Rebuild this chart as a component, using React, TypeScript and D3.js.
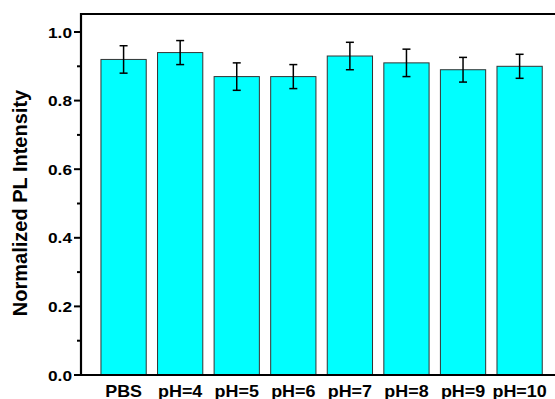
import React, { useRef, useEffect } from "react";
import * as d3 from "d3";

// data
const categories = ["PBS", "pH=4", "pH=5", "pH=6", "pH=7", "pH=8", "pH=9", "pH=10"];
const values = [0.92, 0.94, 0.87, 0.87, 0.93, 0.91, 0.89, 0.9];
const errors = [0.04, 0.035, 0.04, 0.035, 0.04, 0.04, 0.036, 0.035];
const majorTicks = [0, 0.2, 0.4, 0.6, 0.8, 1.0];
const minorTicks = [0.1, 0.3, 0.5, 0.7, 0.9];

const App = () => {
  const container = useRef<SVGSVGElement>(null);

  const width = 555;
  const height = 399;
  const left = 81;
  const bottom = 375;
  const top = 14;

  useEffect(() => {
    const svg = d3.select(container.current);
    svg.selectAll("*").remove();

    const xScale = d3
      .scaleBand()
      .domain(categories)
      .range([95.3, 547.9])
      .paddingInner(0.2)
      .paddingOuter(0.1);

    const yScale = d3.scaleLinear().domain([0, 1.0]).range([bottom, 32]);

    const rows = categories.map((c, i) => ({ c, v: values[i], e: errors[i] }));

    // bars
    svg
      .selectAll(".bar")
      .data(rows)
      .enter()
      .append("rect")
      .attr("class", "bar")
      .attr("x", d => xScale(d.c)!)
      .attr("y", d => yScale(d.v))
      .attr("width", xScale.bandwidth())
      .attr("height", d => yScale(0) - yScale(d.v))
      .attr("fill", "#00ffff")
      .attr("stroke", "#333")
      .attr("stroke-width", 1);

    // error bars
    const eb = svg
      .selectAll(".err")
      .data(rows)
      .enter()
      .append("g")
      .attr("class", "err")
      .attr("stroke", "#000")
      .attr("stroke-width", 1.5);
    const cx = (d: any) => xScale(d.c)! + xScale.bandwidth() / 2;
    eb.append("line")
      .attr("x1", cx).attr("x2", cx)
      .attr("y1", d => yScale(d.v + d.e))
      .attr("y2", d => yScale(d.v - d.e));
    eb.append("line")
      .attr("x1", d => cx(d) - 4).attr("x2", d => cx(d) + 4)
      .attr("y1", d => yScale(d.v + d.e))
      .attr("y2", d => yScale(d.v + d.e));
    eb.append("line")
      .attr("x1", d => cx(d) - 4).attr("x2", d => cx(d) + 4)
      .attr("y1", d => yScale(d.v - d.e))
      .attr("y2", d => yScale(d.v - d.e));

    // frame (right side runs off the picture)
    svg.append("path")
      .attr("d", `M${left},${bottom} L${left},${top} L${width + 10},${top}`)
      .attr("fill", "none")
      .attr("stroke", "#000")
      .attr("stroke-width", 2.2);
    svg.append("line")
      .attr("x1", left - 1).attr("x2", width + 10)
      .attr("y1", bottom).attr("y2", bottom)
      .attr("stroke", "#000")
      .attr("stroke-width", 2.2);

    // y ticks
    svg.selectAll(".major")
      .data(majorTicks)
      .enter()
      .append("line")
      .attr("x1", left - 7).attr("x2", left)
      .attr("y1", d => yScale(d)).attr("y2", d => yScale(d))
      .attr("stroke", "#000").attr("stroke-width", 2);
    svg.selectAll(".minor")
      .data(minorTicks)
      .enter()
      .append("line")
      .attr("x1", left - 4).attr("x2", left)
      .attr("y1", d => yScale(d)).attr("y2", d => yScale(d))
      .attr("stroke", "#000").attr("stroke-width", 2);

    svg.selectAll(".ylab")
      .data(majorTicks)
      .enter()
      .append("text")
      .attr("transform", d => `translate(72,${yScale(d) + 5.5}) scale(1.15,1)`)
      .attr("text-anchor", "end")
      .style("font-family", "'Liberation Sans', Arial, sans-serif")
      .style("font-weight", "bold")
      .style("font-size", "15px")
      .text(d => d3.format(".1f")(d));

    // x labels
    svg.selectAll(".xlab")
      .data(categories)
      .enter()
      .append("text")
      .attr("transform", d => `translate(${xScale(d)! + xScale.bandwidth() / 2},396.5) scale(1.12,1)`)
      .attr("text-anchor", "middle")
      .style("font-family", "'Liberation Sans', Arial, sans-serif")
      .style("font-weight", "bold")
      .style("font-size", "16px")
      .text(d => d);

    // y title
    svg.append("text")
      .attr("transform", `translate(27,203) rotate(-90)`)
      .attr("text-anchor", "middle")
      .style("font-family", "'Liberation Sans', Arial, sans-serif")
      .style("font-weight", "bold")
      .style("font-size", "20px")
      .text("Normalized PL Intensity");
  }, []);

  return (
    <div style={{ position: "absolute", top: 0, left: 0, width, height, background: "#fff" }}>
      <svg ref={container} width={width} height={height} style={{ display: "block" }} />
    </div>
  );
};

export default App;
